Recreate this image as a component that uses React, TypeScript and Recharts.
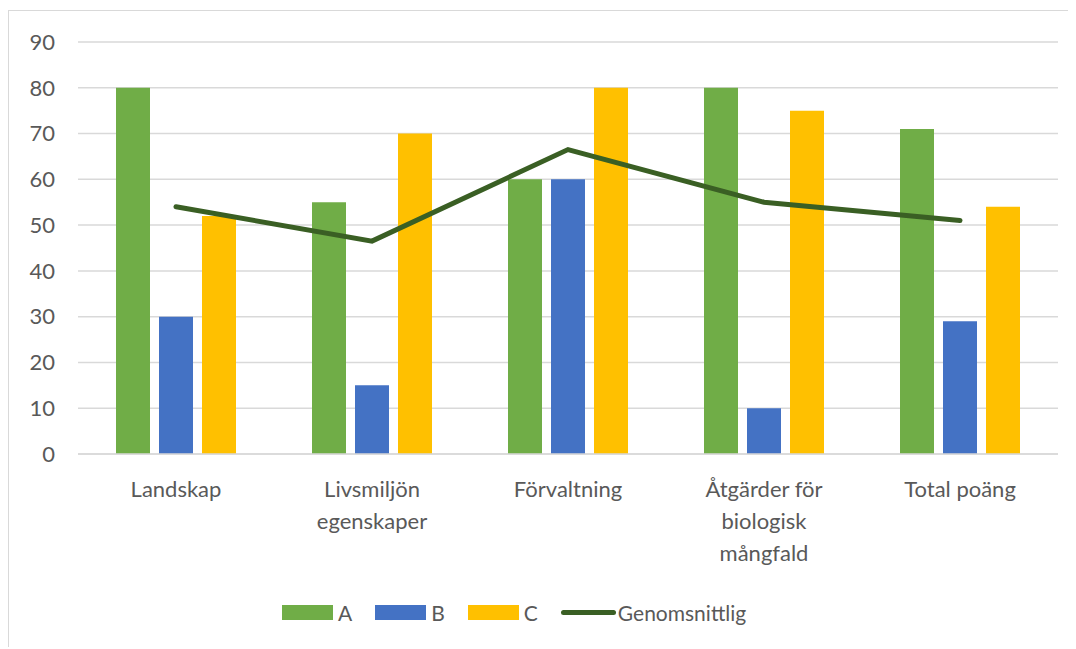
import { ComposedChart, Bar, Line, XAxis, YAxis, CartesianGrid, Legend } from 'recharts';

const categories = [
  'Landskap',
  'Livsmiljön\negenskaper',
  'Förvaltning',
  'Åtgärder för\nbiologisk\nmångfald',
  'Total poäng',
];
const seriesA = [80, 55, 60, 80, 71];
const seriesB = [30, 15, 60, 10, 29];
const seriesC = [52, 70, 80, 75, 54];
const average = [54, 46.5, 66.5, 55, 51];
const yTicks = [0, 10, 20, 30, 40, 50, 60, 70, 80, 90];

const data = categories.map((name, i) => ({
  name,
  A: seriesA[i],
  B: seriesB[i],
  C: seriesC[i],
  Genomsnittlig: average[i],
}));

const FONT = 'Lato, "Open Sans", sans-serif';
const TEXT = '#595959';

const CategoryTick = (props: any) => {
  const { x, y, payload } = props;
  const lines = String(payload.value).split('\n');
  return (
    <text x={x} y={y} textAnchor="middle" fill={TEXT} fontSize={22} fontFamily={FONT}>
      {lines.map((l, i) => (
        <tspan key={i} x={x} dy={i === 0 ? 35 : 32}>
          {l}
        </tspan>
      ))}
    </text>
  );
};

const legendItems = [
  { label: 'A', color: '#70ad47', type: 'rect' },
  { label: 'B', color: '#4472c4', type: 'rect' },
  { label: 'C', color: '#ffc000', type: 'rect' },
  { label: 'Genomsnittlig', color: '#3a5f24', type: 'line' },
];

const ChartLegend = () => (
  <div style={{ display: 'flex', alignItems: 'center', fontFamily: FONT, fontSize: 21, color: TEXT }}>
    {legendItems.map((it) => (
      <div key={it.label} style={{ display: 'flex', alignItems: 'center', marginRight: 23 }}>
        {it.type === 'rect' ? (
          <span style={{ width: 51, height: 15, background: it.color, marginRight: 5, display: 'inline-block' }} />
        ) : (
          <span
            style={{ width: 55, height: 5, borderRadius: 3, background: it.color, marginRight: 2, display: 'inline-block' }}
          />
        )}
        <span>{it.label}</span>
      </div>
    ))}
  </div>
);

export default function App() {
  return (
    <div
      style={{
        position: 'relative',
        top: 2,
        width: 1067,
        height: 638,
        borderLeft: '1px solid #d9d9d9',
        borderTop: '1px solid #d9d9d9',
        background: '#fff',
      }}
    >
      <ComposedChart
        width={1067}
        height={638}
        data={data}
        margin={{ top: 31, right: 18, bottom: 0, left: 0 }}
        barSize={34}
        barGap={9}
      >
        <CartesianGrid vertical={false} stroke="#d9d9d9" strokeWidth={1.5} />
        <XAxis
          dataKey="name"
          height={170}
          axisLine={{ stroke: '#d9d9d9', strokeWidth: 1.5 }}
          tickLine={false}
          tick={<CategoryTick />}
          interval={0}
        />
        <YAxis
          domain={[0, 90]}
          ticks={yTicks}
          width={69}
          axisLine={false}
          tickLine={false}
          tickMargin={17}
          tick={{ fill: TEXT, fontSize: 22, fontFamily: FONT }}
        />
        <Legend
          content={<ChartLegend />}
          wrapperStyle={{ position: 'absolute', left: 273, top: 589, width: 'auto' }}
        />
        <Bar dataKey="A" fill="#70ad47" isAnimationActive={false} />
        <Bar dataKey="B" fill="#4472c4" isAnimationActive={false} />
        <Bar dataKey="C" fill="#ffc000" isAnimationActive={false} />
        <Line
          type="linear"
          dataKey="Genomsnittlig"
          stroke="#3a5f24"
          strokeWidth={5}
          strokeLinecap="round"
          dot={false}
          activeDot={false}
          isAnimationActive={false}
        />
      </ComposedChart>
    </div>
  );
}
